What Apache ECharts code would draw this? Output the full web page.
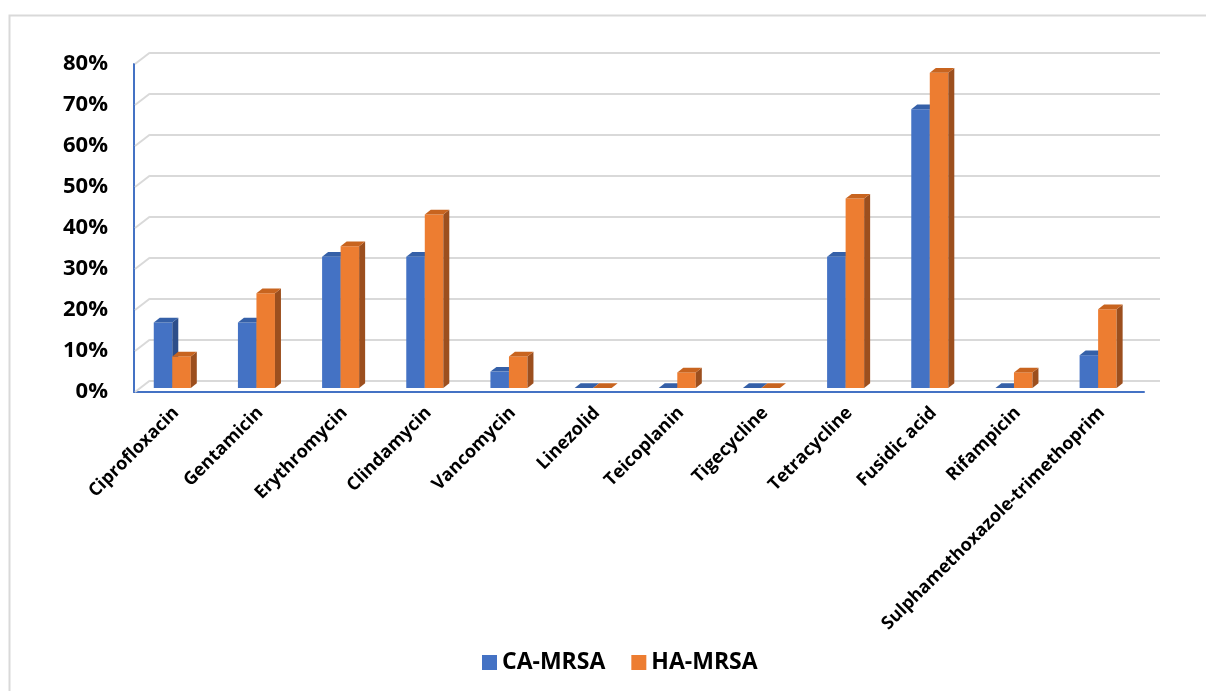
<!DOCTYPE html>
<html>
<head>
<meta charset="utf-8">
<script src="https://cdn.jsdelivr.net/npm/echarts@6/dist/echarts.min.js"></script>
<style>
html,body{margin:0;padding:0;background:#fff;}
#chart{width:1206px;height:691px;}
</style>
</head>
<body>
<div id="chart"></div>
<script>
const categories = ['Ciprofloxacin','Gentamicin','Erythromycin','Clindamycin','Vancomycin','Linezolid','Teicoplanin','Tigecycline','Tetracycline','Fusidic acid','Rifampicin','Sulphamethoxazole-trimethoprim'];
const caMRSA = [16, 16, 32, 32, 4, 0, 0, 0, 32, 68, 0, 8];
const haMRSA = [7.7, 23.1, 34.6, 42.3, 7.7, 0, 3.8, 0, 46.2, 76.9, 3.8, 19.2];
const yTicks = [0, 10, 20, 30, 40, 50, 60, 70, 80];
const seriesNames = ['CA-MRSA', 'HA-MRSA'];

const FONT = '"Open Sans", "Noto Sans", sans-serif';
const DEPTH_X = 16, DEPTH_Y = -11.5;

function barRenderer(side, front, topC, sideC) {
  return function (params, api) {
    const i = api.value(0), v = api.value(1);
    const base = api.coord([i, 0]);
    const top = api.coord([i, v]);
    const bw = api.size([1, 0])[0] * 0.22;
    const cx = base[0] - 3.8;
    const x0 = side === 0 ? cx - bw : cx;
    const x1 = x0 + bw;
    const oy = -4;
    const yb = base[1] + oy, yt = top[1] + oy;
    const dx = 6, dy = -4.7;
    return {
      type: 'group',
      children: [
        { type: 'rect', shape: { x: x0, y: yt, width: bw, height: yb - yt }, style: { fill: front } },
        { type: 'polygon', shape: { points: [[x1, yt], [x1 + dx, yt + dy], [x1 + dx, yb + dy], [x1, yb]] }, style: { fill: sideC } },
        { type: 'polygon', shape: { points: [[x0, yt], [x1, yt], [x1 + dx, yt + dy], [x0 + dx, yt + dy]] }, style: { fill: topC } }
      ]
    };
  };
}

const chart = echarts.init(document.getElementById('chart'), null, { renderer: 'canvas' });
chart.setOption({
  backgroundColor: '#ffffff',
  animation: false,
  graphic: [{
    type: 'rect', silent: true, z: -10,
    shape: { x: 9.5, y: 15.5, width: 1400, height: 900 },
    style: { fill: 'none', stroke: '#d9d9d9', lineWidth: 2 }
  }],
  legend: {
    data: seriesNames,
    left: 477, top: 646,
    icon: 'rect', itemWidth: 15, itemHeight: 15, itemGap: 26,
    textStyle: { fontFamily: FONT, fontWeight: 'bold', fontSize: 23, color: '#000' }
  },
  grid: [
    { left: 134, right: 62, top: 64, bottom: 299 },
    { left: 134 + DEPTH_X, right: 62 - DEPTH_X, top: 64 + DEPTH_Y, bottom: 299 - DEPTH_Y }
  ],
  xAxis: [{
    gridIndex: 0, type: 'category', data: categories,
    axisLine: { show: true, lineStyle: { color: '#4472C4', width: 2 } },
    axisTick: { show: false },
    axisLabel: { interval: 0, rotate: 45, margin: 18, color: '#000', fontFamily: FONT, fontWeight: 'bold', fontSize: 18 }
  }, {
    gridIndex: 1, type: 'category', data: categories, show: false
  }],
  yAxis: [{
    gridIndex: 0, type: 'value', min: 0, max: 80, interval: 10,
    axisLine: { show: true, lineStyle: { color: '#4472C4', width: 2 } },
    axisTick: { show: false },
    splitLine: { show: false },
    axisLabel: { formatter: '{value}%', margin: 26, color: '#000', fontFamily: FONT, fontWeight: 'bold', fontSize: 22 }
  }, {
    gridIndex: 1, type: 'value', min: 0, max: 80, interval: 10,
    axisLine: { show: false }, axisTick: { show: false }, axisLabel: { show: false },
    splitLine: { show: true, lineStyle: { color: '#d9d9d9', width: 2 } }
  }],
  series: [
    {
      name: 'gridDiagonals', type: 'custom', xAxisIndex: 0, yAxisIndex: 0, silent: true, z: 1,
      data: yTicks.map(t => [0, t]),
      encode: { x: 0, y: 1 },
      renderItem: function (params, api) {
        const y = api.coord([0, api.value(1)])[1];
        const x = params.coordSys.x;
        return { type: 'line', shape: { x1: x + 1, y1: y, x2: x + DEPTH_X, y2: y + DEPTH_Y }, style: { stroke: '#d9d9d9', lineWidth: 2 } };
      }
    },
    {
      name: seriesNames[0], type: 'custom', xAxisIndex: 0, yAxisIndex: 0, z: 3,
      itemStyle: { color: '#4472C4' },
      data: caMRSA.map((v, i) => [i, v]),
      encode: { x: 0, y: 1 },
      renderItem: barRenderer(0, '#4472C4', '#3560a8', '#2d4e8a')
    },
    {
      name: seriesNames[1], type: 'custom', xAxisIndex: 0, yAxisIndex: 0, z: 4,
      itemStyle: { color: '#ED7D31' },
      data: haMRSA.map((v, i) => [i, v]),
      encode: { x: 0, y: 1 },
      renderItem: barRenderer(1, '#ED7D31', '#c8641f', '#9c4f1e')
    }
  ]
});
</script>
</body>
</html>
